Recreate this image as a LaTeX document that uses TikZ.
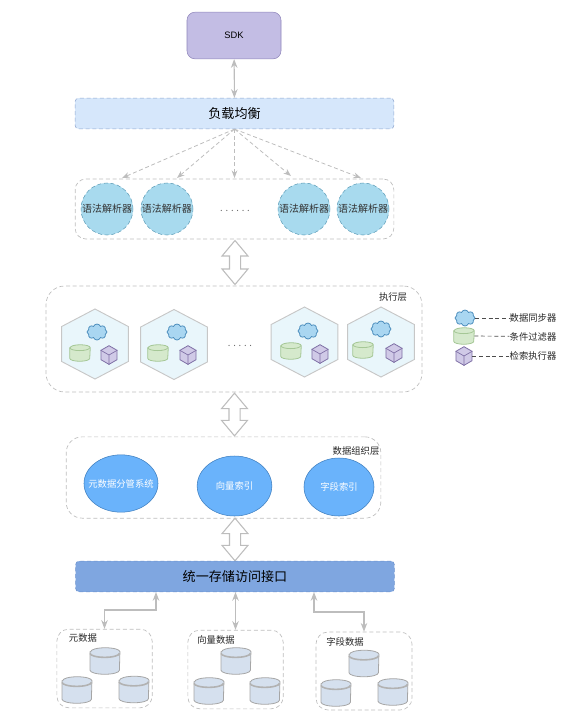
\documentclass[tikz,border=0pt]{standalone}
\usepackage{fontspec}
\setmainfont{Liberation Sans}
\newfontfamily\cjk{Noto Sans CJK SC}
\usetikzlibrary{arrows.meta, shapes.geometric, shapes.symbols, shapes.arrows}

\definecolor{sdkfill}{HTML}{C3BDE4}
\definecolor{sdkline}{HTML}{8F85BA}
\definecolor{lbfill}{HTML}{D6E7FB}
\definecolor{lbline}{HTML}{8FA6CE}
\definecolor{parserfill}{HTML}{A8DAEE}
\definecolor{parserline}{HTML}{5E9DB8}
\definecolor{hexfill}{HTML}{E9F6FB}
\definecolor{cloudfill}{HTML}{A9D6F1}
\definecolor{cloudline}{HTML}{4E8FBE}
\definecolor{cylfill}{HTML}{D5E9CC}
\definecolor{cylline}{HTML}{A5C796}
\definecolor{cubefill}{HTML}{D0CAE7}
\definecolor{cubeline}{HTML}{7E6FA5}
\definecolor{indexfill}{HTML}{6AB3FB}
\definecolor{indexline}{HTML}{3F7FBF}
\definecolor{barfill}{HTML}{7FA6E0}
\definecolor{barline}{HTML}{6D92CC}
\definecolor{diskfill}{HTML}{D5E0EE}
\definecolor{wirecol}{HTML}{BDBDBD}

% cube icon, filter can and storage disk
\newcommand{\cubeicon}[2]{
	\node[cube] (#1) at (#2) {};
	\draw[cubeline, line width=0.5pt] (#1.center) -- (#1.150) (#1.center) -- (#1.30) (#1.center) -- (#1.270);
}
\newcommand{\canicon}[2]{
	\node[canbox] (#1) at (#2) {};
	\draw[draw=cylline, fill=cylfill, line width=0.6pt] ([yshift=-2.2pt]#1.north west) -- ([yshift=2.2pt]#1.south west)
		arc[start angle=180, end angle=360, x radius=7.5pt, y radius=2.2pt] -- ([yshift=-2.2pt]#1.north east)
		arc[start angle=0, end angle=180, x radius=7.5pt, y radius=2.2pt] -- cycle;
	\draw[draw=cylline, line width=0.6pt] ([yshift=-2.2pt]#1.north west) arc[start angle=180, end angle=360, x radius=7.5pt, y radius=2.2pt];
}
\newcommand{\diskicon}[2]{
	\node[diskbox] (#1) at (#2) {};
	\draw[draw=black!35, fill=diskfill, line width=0.6pt] ([yshift=-3pt]#1.north west) -- ([yshift=3pt]#1.south west)
		arc[start angle=180, end angle=360, x radius=11pt, y radius=3pt] -- ([yshift=-3pt]#1.north east)
		arc[start angle=0, end angle=180, x radius=11pt, y radius=3pt] -- cycle;
	\draw[draw=black!30, line width=1.2pt] ([yshift=-4.2pt]#1.north west) arc[start angle=180, end angle=360, x radius=11pt, y radius=3pt];
}

\begin{document}
\begin{tikzpicture}[
		x=0.75pt, y=-0.75pt,
		>=Stealth,
		sdkbox/.style={draw=sdkline, fill=sdkfill, rectangle, rounded corners=6pt, minimum width=70.5pt, minimum height=35pt, font=\fontsize{7}{8}\selectfont},
		bar/.style={rectangle, rounded corners=2.5pt, densely dashed, minimum width=239pt, minimum height=23pt, font=\cjk\fontsize{9.8}{11}\selectfont},
		group/.style={draw=wirecol, densely dashed, rectangle, line width=0.5pt},
		parser/.style={draw=parserline, densely dashed, fill=parserfill, circle, minimum size=39pt, inner sep=0pt, font=\cjk\fontsize{7.5}{8}\selectfont, text=black!80},
		cell/.style={draw=black!22, line width=0.7pt, fill=hexfill, regular polygon, regular polygon sides=6, regular polygon rotate=30, minimum size=52.5pt, inner sep=0pt, xscale=1.1, transform shape},
		puff/.style={draw=cloudline, fill=cloudfill, cloud, cloud puffs=8, cloud puff arc=140, aspect=1.2, minimum width=15pt, minimum height=12pt, inner sep=0pt, line width=0.6pt},
		canbox/.style={rectangle, minimum width=15pt, minimum height=12pt, inner sep=0pt},
		cube/.style={draw=cubeline, fill=cubefill, regular polygon, regular polygon sides=6, regular polygon rotate=30, minimum size=14pt, inner sep=0pt, line width=0.6pt},
		diskbox/.style={rectangle, minimum width=22pt, minimum height=19.5pt, inner sep=0pt},
		index/.style={draw=indexline, fill=indexfill, ellipse, inner sep=0pt, text=white, font=\cjk\fontsize{7}{8}\selectfont},
		hollow/.style={draw=wirecol, line width=0.8pt, fill=white, double arrow, double arrow head extend=5.6pt, double arrow tip angle=80, inner xsep=0pt, inner ysep=3.75pt, rotate=90},
		caption/.style={font=\cjk\fontsize{7}{8}\selectfont, text=black!85, inner sep=0pt},
		wire/.style={<->, draw=wirecol, line width=0.8pt},
		fan/.style={->, draw=wirecol, densely dashed, line width=0.6pt},
		key/.style={densely dashed, line width=0.5pt, draw=black!70}
	]
	\useasboundingbox (0,0) rectangle (565,719);

	% Top of the stack
	\node[sdkbox] (sdk) at (234,35.5) {SDK};
	\node[bar, draw=lbline, fill=lbfill] (balance) at (234.5,113.5) {负载均衡};
	\draw[wire] (sdk) -- (balance);

	% Parsers
	\node[group, rounded corners=8pt, minimum width=239pt, minimum height=45pt] (parsers) at (234.5,209) {};
	\node[parser] (parsea) at (107,209) {语法解析器};
	\node[parser] (parseb) at (167,209) {语法解析器};
	\node[parser] (parsec) at (304,209) {语法解析器};
	\node[parser] (parsed) at (363,209) {语法解析器};
	\node[caption, text=black!60] (parsedots) at (235,211) {. . . . . .};

	\coordinate (fana) at (122,178);
	\coordinate (fanb) at (177,178);
	\coordinate (fanc) at (234.5,178);
	\coordinate (fand) at (291,176);
	\coordinate (fane) at (361,178);
	\foreach \fanend in {fana, fanb, fanc, fand, fane}
		\draw[fan] (balance.south) -- (\fanend);

	\node[hollow, minimum height=33pt] (linka) at (235,262.5) {};

	% Execution layer
	\node[group, rounded corners=14pt, minimum width=282pt, minimum height=79.5pt] (exec) at (234,339) {};
	\node[caption] (execlabel) at (393,297) {执行层};
	\foreach \hx/\hy/\cx/\cy/\gx/\gy/\bx/\by/\hn in {
		95/344/97/332/80/353/109/355/a,
		174/344.5/177/332/158/353/188/355/b,
		304.5/342/308/331/291/351/320/354/c,
		381/342/381/329/363/350/394/353/d} {
		\node[cell] (hex\hn) at (\hx,\hy) {};
		\node[puff] (puff\hn) at (\cx,\cy) {};
		\canicon{can\hn}{\gx,\gy}
		\cubeicon{cube\hn}{\bx,\by}
	}
	\node[caption, text=black!60] (execdots) at (240,346) {. . . . .};

	% Legend
	\node[puff] (keypuff) at (465,318) {};
	\canicon{keycan}{464,336}
	\cubeicon{keycube}{464,356}
	\node[caption] (keya) at (533,318) {数据同步器};
	\node[caption] (keyb) at (533,336.5) {条件过滤器};
	\node[caption] (keyc) at (533,356) {检索执行器};
	\draw[key] (keypuff.east) -- (keya);
	\draw[key] (keycan.east) -- (keyb);
	\draw[key] (keycube.east) -- (keyc);

	\node[hollow, minimum height=32pt] (linkb) at (234.5,414.5) {};

	% Data organisation layer
	\node[group, rounded corners=12pt, minimum width=236pt, minimum height=61pt] (orga) at (223.5,477.5) {};
	\node[caption] (orgalabel) at (356,451) {数据组织层};
	\node[index, minimum width=55.5pt, minimum height=43pt] (metaidx) at (121,483.5) {\makebox[0pt]{元数据分管系统}};
	\node[index, minimum width=56pt, minimum height=45pt] (vectidx) at (234.5,486) {向量索引};
	\node[index, minimum width=52.5pt, minimum height=43.5pt] (fieldidx) at (339,487) {字段索引};

	\node[hollow, minimum height=32pt] (linkc) at (235,539.5) {};

	% Storage
	\node[bar, draw=barline, fill=barfill] (store) at (235,576.5) {统一存储访问接口};

	\node[group, rounded corners=9pt, minimum width=71.5pt, minimum height=59pt] (metagrp) at (104.5,668.5) {};
	\node[group, rounded corners=9pt, minimum width=71.5pt, minimum height=59pt] (vectgrp) at (235.5,669.5) {};
	\node[group, rounded corners=9pt, minimum width=72pt, minimum height=58.5pt] (fieldgrp) at (364,671) {};

	\node[caption] (metalabel) at (83,638) {元数据};
	\node[caption] (vectlabel) at (216,640) {向量数据};
	\node[caption] (fieldlabel) at (345,642) {字段数据};

	\diskicon{metaa}{105,661}
	\diskicon{metab}{77,690}
	\diskicon{metac}{134,689.5}
	\diskicon{vecta}{236,661}
	\diskicon{vectb}{209,691}
	\diskicon{vectc}{265,691}
	\diskicon{fielda}{364,663.5}
	\diskicon{fieldb}{336,693}
	\diskicon{fieldc}{393,692}

	\coordinate (tapa) at (156,592);
	\coordinate (tapb) at (235.5,592);
	\coordinate (tapc) at (314,592);
	\draw[wire] (tapa) |- (130,610) -| (metagrp.north);
	\draw[wire] (tapb) -- (vectgrp.north);
	\draw[wire] (tapc) |- (340,612) -| (fieldgrp.north);

\end{tikzpicture}
\end{document}
